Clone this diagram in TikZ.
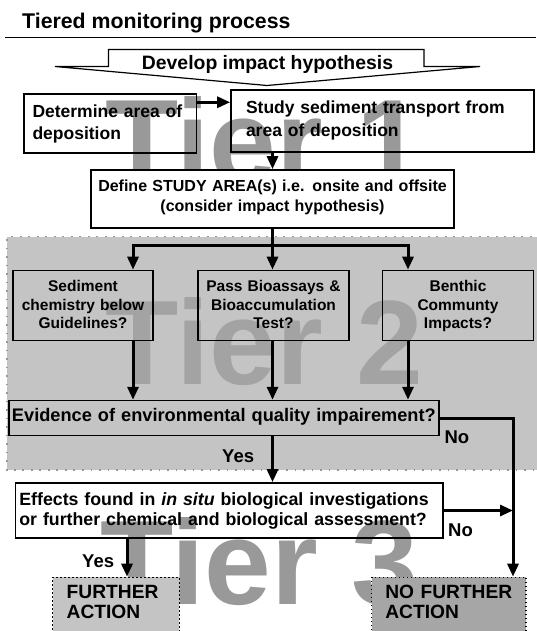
\documentclass[tikz,border=0pt]{standalone}
\usepackage{fontspec}
\setmainfont{Liberation Sans}
\usetikzlibrary{arrows.meta}
\definecolor{tierone}{RGB}{153,153,153}
\definecolor{tiertwo}{RGB}{163,163,163}
\definecolor{regiongrey}{RGB}{196,196,196}
\definecolor{regionedge}{RGB}{150,150,150}
\definecolor{lightbox}{RGB}{196,196,196}
\definecolor{darkbox}{RGB}{166,166,166}
\newcommand{\fsz}[2]{\fontsize{#1}{#2}\selectfont\bfseries}
\begin{document}
\begin{tikzpicture}[x=1pt,y=-1pt,
  box/.style={draw=black, line width=1.7pt, anchor=text, inner ysep=0pt},
  line/.style={line width=3pt},
  conn/.style={line width=3pt, -{Triangle[length=13pt,width=11pt]}},
  tiertext/.style={anchor=base west, inner sep=0pt, font=\fontsize{120}{120}\selectfont\bfseries},
  lbl/.style={anchor=base west, inner sep=0pt, font=\fsz{18.5}{20}},
  dotbox/.style={draw=black, line width=1.3pt, dash pattern=on 1.3pt off 2.7pt, anchor=text, inner ysep=0pt}
]
\useasboundingbox (0,0) rectangle (536,631);
% Tier 2 region
\fill[regiongrey] (7,236.5) rectangle (540,470);
\draw[regionedge, line width=1.8pt, dash pattern=on 1.8pt off 6.7pt] (540,236.5) -- (7,236.5) -- (7,470) -- (540,470);
% title and rule
\node[anchor=base west, inner sep=0pt, font=\fsz{21.3}{24}] (title) at (22,29) {Tiered monitoring process};
\draw[line width=1.8pt] (5,37.6) -- (536,37.6);
% big arrow
\draw[line width=1.2pt, fill=white] (55,66.5) -- (108.5,66.5) -- (108.5,49.5) -- (424,49.5) -- (424,66.5) -- (480,66.5) -- (267,85.5) -- cycle;
\node[anchor=base, inner sep=0pt, font=\fsz{19.4}{22}] (develop) at (267.5,70) {Develop impact hypothesis};
% Tier 1 backgrounds
\fill[white] (24,93.7) rectangle (196.6,152.8);
\fill[white] (231,90.3) rectangle (534,151.8);
\node[tiertext, text=tierone] (tier1) at (105,183) {Tier 1};
\node[box, inner xsep=8.5pt, text width=155.6pt, text height=23.9pt, text depth=35.2pt, align=left, font=\fsz{17.5}{22}] (determine) at (32.5,117.6) {Determine area of\\deposition};
\node[box, inner xsep=15pt, text width=273pt, text height=23.7pt, text depth=37.8pt, align=left, font=\fsz{17.5}{22.4}] (study) at (246,114) {Study sediment transport from\\area of deposition};
\node[box, fill=white, inner xsep=4pt, text width=355pt, text height=21pt, text depth=37pt, align=center, font=\fsz{16}{20}] (define) at (95,191) {Define STUDY AREA(s) i.e. onsite and offsite\\(consider impact hypothesis)};
% Tier 2
\node[tiertext, text=tiertwo] (tier2) at (105,384) {Tier 2};
\node[box, inner xsep=3pt, text width=134pt, text height=21pt, text depth=49pt, align=center, font=\fsz{15.5}{18.5}] (sed) at (16,291.5) {Sediment\\chemistry below\\Guidelines?};
\node[box, inner xsep=3pt, text width=145pt, text height=21pt, text depth=49pt, align=center, font=\fsz{15.5}{18.5}] (pass) at (201,291.5) {Pass Bioassays \&\\Bioaccumulation\\Test?};
\node[box, inner xsep=3pt, text width=145pt, text height=21pt, text depth=49pt, align=center, font=\fsz{15.5}{18.5}] (benthic) at (385.5,291.5) {Benthic\\Communty\\Impacts?};
\node[box, inner xsep=3pt, text width=424.3pt, text height=21.2pt, text depth=13.7pt, align=left, font=\fsz{18.2}{20}] (evid) at (12,421.8) {Evidence of environmental quality impairement?};
% Tier 3
\node[tiertext, text=tierone] (tier3) at (100,604) {Tier 3};
\node[box, inner xsep=4pt, text width=419.6pt, text height=22.5pt, text depth=32.5pt, align=left, font=\fsz{17.75}{20}] (effects) at (19.4,505.5) {Effects found in \textit{in situ} biological investigations\\or further chemical and biological assessment?};
\node[dotbox, fill=lightbox, inner xsep=14pt, text width=98.6pt, text height=20.7pt, text depth=47pt, align=left, font=\fsz{19.2}{20}] (further) at (66.7,598) {FURTHER\\ACTION};
\node[dotbox, fill=darkbox, inner xsep=13.65pt, text width=127pt, text height=20.7pt, text depth=47pt, align=left, font=\fsz{19.2}{20}] (nofurther) at (385.35,598) {NO FURTHER\\ACTION};
% labels
\node[lbl] (no1) at (444.4,443) {No};
\node[lbl] (yes1) at (222,462.8) {Yes};
\node[lbl] (no2) at (448,536) {No};
\node[lbl] (yes2) at (82,567) {Yes};
% coordinates
\coordinate (split) at (272.5,245.5);
\coordinate (bl) at (133,245.5);
\coordinate (br) at (408,245.5);
\coordinate (nox) at (513,418);
\coordinate (yesx) at (127,560);
% connectors
\draw[conn] ([yshift=21pt]determine.east) -- ([yshift=21pt]determine.east -| study.west);
\draw[conn] (study.south -| define.north) -- (define.north);
\draw[line] (define.south) -- (split);
\draw[line, line cap=rect] (bl) -- (br);
\draw[conn] (bl) -- (bl |- sed.north);
\draw[conn] (split) -- (split |- pass.north);
\draw[conn] (br) -- (br |- benthic.north);
\draw[conn] (bl |- sed.south) -- (bl |- evid.north);
\draw[conn] (split |- pass.south) -- (split |- evid.north);
\draw[conn] (br |- benthic.south) -- (br |- evid.north);
\draw[conn] (split |- evid.south) -- (split |- effects.north);
\draw[conn] (evid.east) -| (nox |- nofurther.north);
\draw[conn] (effects.east) -- (nox |- effects.east);
\draw[conn] (yesx |- effects.south) -- (yesx |- further.north);
\end{tikzpicture}
\end{document}
